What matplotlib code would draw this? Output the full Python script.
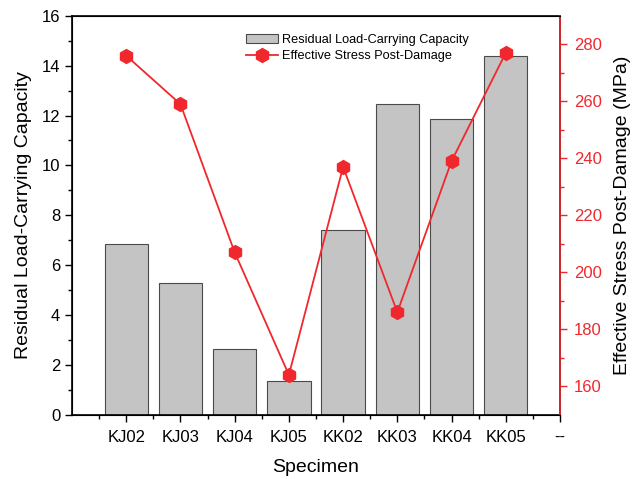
import numpy as np
import matplotlib.pyplot as plt

plt.rcParams['font.family'] = ['Liberation Sans', 'DejaVu Sans']

specimens = ['KJ02', 'KJ03', 'KJ04', 'KJ05', 'KK02', 'KK03', 'KK04', 'KK05']
capacity = [6.85, 5.3, 2.65, 1.35, 7.4, 12.45, 11.85, 14.4]
stress = [276, 259, 207, 164, 237, 186, 239, 277]
tick_labels = specimens + ['--']

red = '#f0282d'

fig = plt.figure(figsize=(6.32, 4.79), dpi=100)
ax = fig.add_axes([0.114, 0.134, 0.772, 0.833])

x = np.arange(1, len(specimens) + 1)
bars = ax.bar(x, capacity, width=0.8, color='#c4c4c4', edgecolor='#4a4a4a',
              linewidth=0.8, label='Residual Load-Carrying Capacity')
ax.set_xlim(0, 9)
ax.set_ylim(0, 16)
ax.set_xticks(np.arange(1, 10))
ax.set_xticklabels(tick_labels, fontsize=12)
ax.set_xticks(np.arange(0.5, 9, 1), minor=True)
ax.set_yticks(np.arange(0, 17, 2))
ax.set_yticks(np.arange(1, 16, 2), minor=True)
ax.tick_params(axis='y', labelsize=12, direction='out', length=5, width=1)
ax.tick_params(axis='x', labelsize=12, direction='out', length=5, width=1, pad=6)
ax.tick_params(which='minor', length=3, width=1)
ax.set_xlabel('Specimen', fontsize=14, labelpad=10)
ax.set_ylabel('Residual Load-Carrying Capacity', fontsize=14, labelpad=7)
for s in ax.spines.values():
    s.set_linewidth(1.2)

ax2 = ax.twinx()
line, = ax2.plot(x, stress, color=red, linewidth=1.3, marker='h',
                 markersize=10, markerfacecolor=red, markeredgecolor=red,
                 label='Effective Stress Post-Damage')
ax2.set_ylim(150, 290)
ax2.set_yticks(np.arange(160, 281, 20))
ax2.set_yticks(np.arange(170, 281, 20), minor=True)
ax2.tick_params(axis='y', colors=red, labelsize=12, length=5, width=1, pad=5)
ax2.tick_params(axis='y', which='minor', colors=red, length=3, width=1)
ax2.spines['right'].set_color(red)
ax2.spines['right'].set_linewidth(1.2)
ax2.set_ylabel('Effective Stress Post-Damage (MPa)', fontsize=14, color='black',
               labelpad=9)

ax.legend([bars, line], [bars.get_label(), line.get_label()],
          loc='upper center', bbox_to_anchor=(0.585, 0.978), frameon=False,
          fontsize=9.2, handlelength=2.5, handletextpad=0.3,
          borderaxespad=0.3, labelspacing=0.35)

fig.savefig('out.png', dpi=100)
